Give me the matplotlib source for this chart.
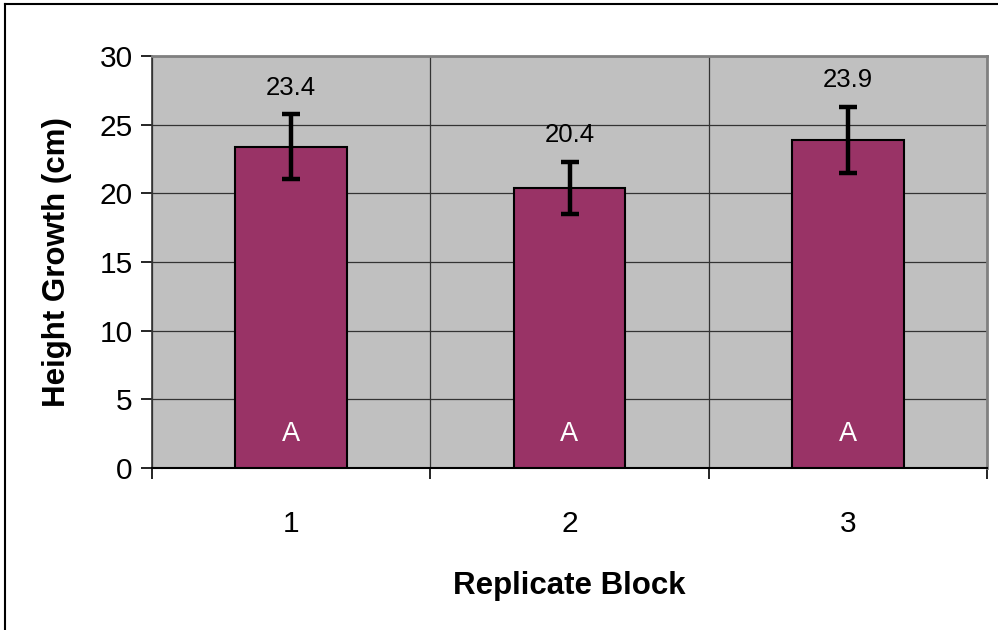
"""Height growth by replicate block, bar chart with error bars."""

import matplotlib
matplotlib.use("Agg")
import matplotlib.pyplot as plt
from matplotlib.lines import Line2D

plt.rcParams.update({
    "font.family": ["Liberation Sans", "DejaVu Sans"],
})

# Data
blocks = ["1", "2", "3"]
means = [23.4, 20.4, 23.9]
errors = [2.35, 1.9, 2.4]
groups = ["A", "A", "A"]

BAR_COLOR = "#993366"
PLOT_BG = "#C0C0C0"

fig = plt.figure(figsize=(9.98, 6.3), dpi=100)
ax = fig.add_axes([0.1523, 0.2571, 0.8367, 0.654])
ax.set_facecolor(PLOT_BG)

x = list(range(len(blocks)))
ax.bar(x, means, width=0.4, color=BAR_COLOR, edgecolor="black", linewidth=1.5, zorder=3)
ax.errorbar(x, means, yerr=errors, fmt="none", ecolor="black", elinewidth=3.2,
            capsize=6.5, capthick=3.2, zorder=4)

for xi, m, e, g in zip(x, means, errors, groups):
    ax.annotate(f"{m:.1f}", xy=(xi, m + e), xytext=(0, 19), textcoords="offset points",
                ha="center", va="center", fontsize=18.5, zorder=5)
    ax.text(xi, 2.5, g, ha="center", va="center", fontsize=19.5, color="white", zorder=5)

ax.set_xlim(-0.5, len(blocks) - 0.5)
ax.set_ylim(0, 30)
ax.set_yticks(range(0, 31, 5))
ax.set_xticks(x)
ax.set_xticklabels(blocks)
ax.set_xticks([i - 0.5 for i in range(len(blocks) + 1)], minor=True)

ax.tick_params(axis="y", which="major", direction="out", length=8, width=1.2,
               labelsize=21.5, pad=6)
ax.tick_params(axis="x", which="major", length=0, labelsize=21.5, pad=30)
ax.tick_params(axis="x", which="minor", direction="out", length=8, width=1.2)

ax.yaxis.grid(True, color="#333333", linewidth=0.9, zorder=0)
ax.xaxis.grid(True, which="minor", color="#333333", linewidth=0.9, zorder=0)
ax.set_axisbelow(True)

for side in ("top", "right"):
    ax.spines[side].set_color("#808080")
    ax.spines[side].set_linewidth(2)
ax.spines["left"].set_color("#333333")
ax.spines["left"].set_linewidth(1.2)
ax.spines["bottom"].set_color("black")
ax.spines["bottom"].set_linewidth(1.5)

ax.set_xlabel("Replicate Block", fontsize=22.5, fontweight="bold", labelpad=24)
ax.set_ylabel("Height Growth (cm)", fontsize=22.5, fontweight="bold", labelpad=20)

# outer chart border (top and left edges visible)
fig.add_artist(Line2D([0.005, 1.0], [0.994, 0.994], color="black", linewidth=1.5,
                      transform=fig.transFigure))
fig.add_artist(Line2D([0.005, 0.005], [0.0, 0.994], color="black", linewidth=1.5,
                      transform=fig.transFigure))

fig.savefig("out.png", dpi=100)
